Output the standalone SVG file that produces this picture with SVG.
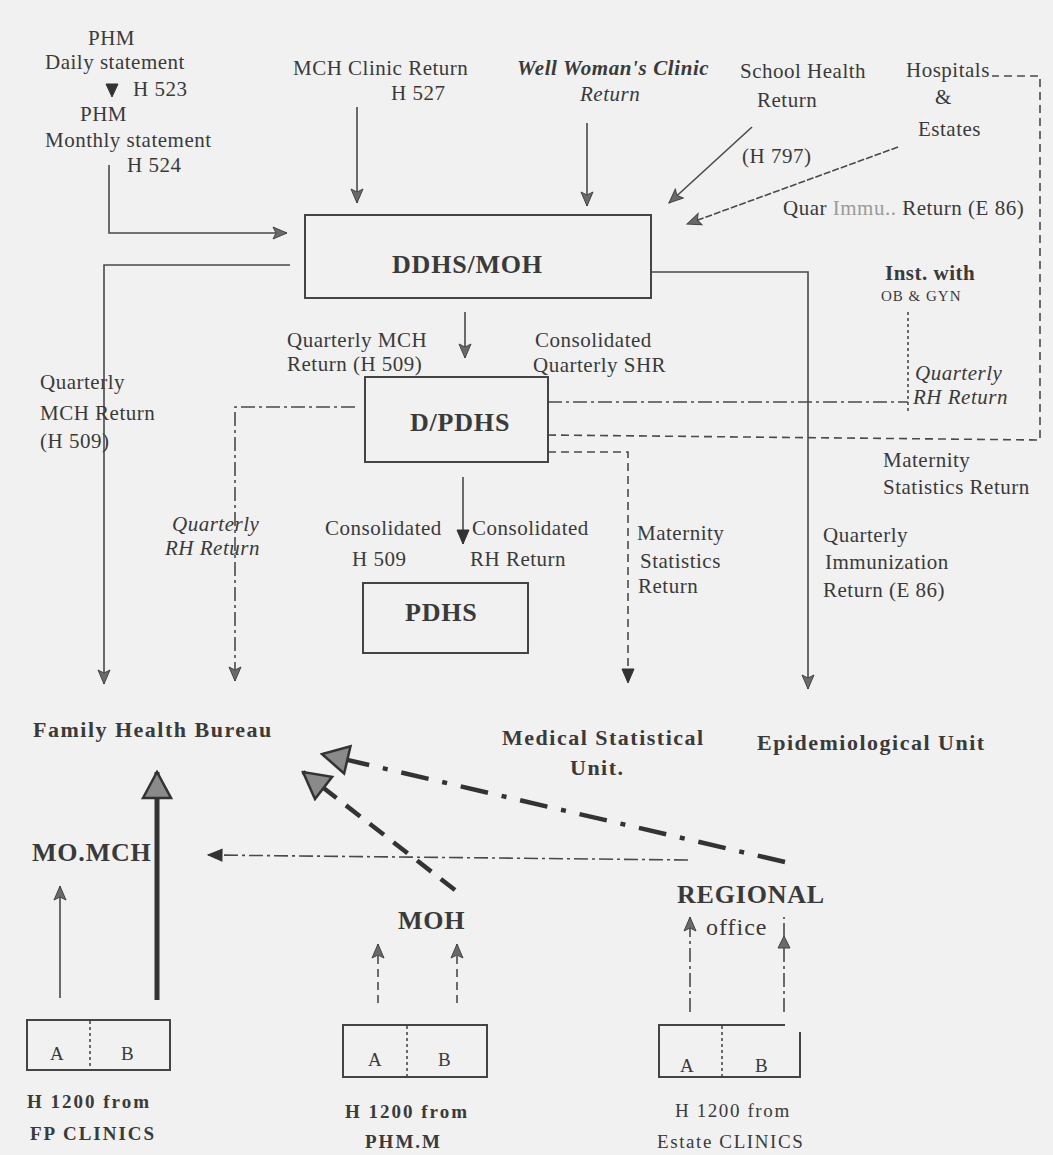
<svg xmlns="http://www.w3.org/2000/svg" width="1053" height="1155" viewBox="0 0 1053 1155">
<style>
  text { font-family: "Liberation Serif", "Times New Roman", serif; fill: #3a3a3a; }
  .t { font-size: 21px; letter-spacing: 0.5px; }
  .ti { font-size: 21px; letter-spacing: 0.5px; font-style: italic; }
  .tbi { font-size: 21px; letter-spacing: 0.6px; font-style: italic; font-weight: bold; }
  .sm { font-size: 15px; letter-spacing: 1px; }
  .box { font-size: 26px; font-weight: bold; letter-spacing: 0.8px; }
  .lab { font-size: 22px; font-weight: bold; letter-spacing: 1.5px; }
  .src { font-size: 19px; font-weight: bold; letter-spacing: 2px; }
  .srcr { font-size: 19px; letter-spacing: 1.6px; }
  .node { fill: none; stroke: #444; stroke-width: 2; }
  .ln { fill: none; stroke: #4a4a4a; stroke-width: 1.6; }
  .dd { stroke-dasharray: 14 4 3 4; }
  .ds { stroke-dasharray: 8 5; }
  .dt { stroke-dasharray: 3 3; }
  .thick { stroke-width: 5; stroke: #333; }
  .bdd { stroke-width: 4.5; stroke: #333; stroke-dasharray: 28 14 5 14; }
  .bds { stroke-width: 4.5; stroke: #333; stroke-dasharray: 18 12; }
</style>
<defs>
  <marker id="arr" markerUnits="userSpaceOnUse" markerWidth="16" markerHeight="14" viewBox="0 0 16 14" refX="15" refY="7" orient="auto">
    <path d="M1,1 L15,7 L1,13 L4,7 z" fill="#6a6a6a" stroke="#444" stroke-width="1"/>
  </marker>
  <marker id="arrF" markerUnits="userSpaceOnUse" markerWidth="16" markerHeight="14" viewBox="0 0 16 14" refX="15" refY="7" orient="auto">
    <path d="M1,1 L15,7 L1,13 z" fill="#333" stroke="#333" stroke-width="1"/>
  </marker>
  <marker id="big" markerUnits="userSpaceOnUse" markerWidth="30" markerHeight="32" viewBox="0 0 30 32" refX="28" refY="16" orient="auto">
    <path d="M2,2 L28,16 L2,30 z" fill="#8a8a8a" stroke="#333" stroke-width="2.5"/>
  </marker>
</defs>
<rect width="1053" height="1155" fill="#f1f1f1"/>

<g id="connectors">
  <path class="ln" d="M109,165 V233 H287" marker-end="url(#arr)"/>
  <path class="ln" d="M290,265 H104 V684" marker-end="url(#arr)"/>
  <path class="ln" d="M357,107 V203" marker-end="url(#arr)"/>
  <path class="ln" d="M587,123 V206" marker-end="url(#arr)"/>
  <path class="ln" d="M752,127 L669,203" marker-end="url(#arr)"/>
  <path class="ln" d="M898,147 L687,224" stroke-dasharray="7 2" marker-end="url(#arr)"/>
  <path class="ln" d="M651,272 H808 V689" marker-end="url(#arr)"/>
  <path class="ln" d="M465,312 V358" marker-end="url(#arr)"/>
  <path class="ln dd" d="M355,407 H235 V681" marker-end="url(#arr)"/>
  <path class="ln dd" d="M548,402 H908"/>
  <path class="ln dt" d="M908,312 V412"/>
  <path class="ln ds" d="M548,435 L1040,440 V76 H992"/>
  <path class="ln ds" d="M548,452 H628 V683" marker-end="url(#arrF)"/>
  <path class="ln" d="M463,477 V544" marker-end="url(#arrF)"/>
  <path class="ln" d="M60,998 V886" marker-end="url(#arr)"/>
  <path class="ln thick" d="M157,1000 V772" marker-end="url(#big)"/>
  <path class="ln dd" d="M688,860 L208,855" marker-end="url(#arrF)"/>
  <path class="ln bdd" d="M785,862 L322,754" marker-end="url(#big)"/>
  <path class="ln bds" d="M455,890 L303,772" marker-end="url(#big)"/>
  <path class="ln ds" d="M378,1003 V944" marker-end="url(#arr)"/>
  <path class="ln ds" d="M457,1003 V944" marker-end="url(#arr)"/>
  <path class="ln dd" d="M690,1012 V917" marker-end="url(#arr)"/>
  <path class="ln dd" d="M784,1012 V917"/>
  <path d="M784,936 L778,948 L790,948 z" fill="#6a6a6a" stroke="#444" stroke-width="1"/>
  <path d="M106,84 L118,84 L112,97 z" fill="#333" stroke="#333" stroke-width="1"/>
</g>

<g id="phm-daily">
  <text class="t" x="88" y="45">PHM</text>
  <text class="t" x="45" y="69">Daily statement</text>
  <text class="t" x="133" y="96">H 523</text>
</g>
<g id="phm-monthly">
  <text class="t" x="80" y="121">PHM</text>
  <text class="t" x="45" y="147">Monthly statement</text>
  <text class="t" x="127" y="172">H 524</text>
</g>
<g id="mch-clinic">
  <text class="t" x="293" y="75">MCH Clinic Return</text>
  <text class="t" x="391" y="100">H 527</text>
</g>
<g id="well-woman">
  <text class="tbi" x="517" y="75">Well Woman's Clinic</text>
  <text class="ti" x="580" y="101">Return</text>
</g>
<g id="school-health">
  <text class="t" x="740" y="78">School Health</text>
  <text class="t" x="757" y="107">Return</text>
  <text class="t" x="742" y="163">(H 797)</text>
</g>
<g id="hospitals">
  <text class="t" x="906" y="77">Hospitals</text>
  <text class="t" x="935" y="104">&amp;</text>
  <text class="t" x="918" y="136">Estates</text>
  <text class="t" x="783" y="215">Quar<tspan fill="#9a9a9a"> Immu..</tspan> Return (E 86)</text>
</g>
<g id="inst-ob">
  <text class="t" x="885" y="280" font-weight="bold">Inst. with</text>
  <text class="sm" x="881" y="301">OB &amp; GYN</text>
  <text class="ti" x="915" y="380">Quarterly</text>
  <text class="ti" x="913" y="404">RH Return</text>
</g>

<g id="ddhs-moh">
  <rect class="node" x="305" y="215" width="346" height="83"/>
  <text class="box" x="392" y="273">DDHS/MOH</text>
</g>
<g id="label-ddhs-down">
  <text class="t" x="287" y="347">Quarterly MCH</text>
  <text class="t" x="287" y="371">Return (H 509)</text>
  <text class="t" x="535" y="347">Consolidated</text>
  <text class="t" x="533" y="372">Quarterly SHR</text>
</g>
<g id="label-left">
  <text class="t" x="40" y="389">Quarterly</text>
  <text class="t" x="40" y="420">MCH Return</text>
  <text class="t" x="40" y="448">(H 509)</text>
</g>
<g id="dpdhs">
  <rect class="node" x="365" y="377" width="183" height="85"/>
  <text class="box" x="410" y="431" letter-spacing="0.6">D/PDHS</text>
</g>
<g id="label-rh-left">
  <text class="ti" x="172" y="531">Quarterly</text>
  <text class="ti" x="165" y="555">RH Return</text>
</g>
<g id="label-consolidated">
  <text class="t" x="325" y="535">Consolidated</text>
  <text class="t" x="352" y="566">H 509</text>
  <text class="t" x="472" y="535">Consolidated</text>
  <text class="t" x="470" y="566">RH Return</text>
</g>
<g id="label-maternity-mid">
  <text class="t" x="637" y="540">Maternity</text>
  <text class="t" x="640" y="568">Statistics</text>
  <text class="t" x="638" y="593">Return</text>
</g>
<g id="label-maternity-right">
  <text class="t" x="883" y="467">Maternity</text>
  <text class="t" x="883" y="494">Statistics Return</text>
</g>
<g id="label-immunization">
  <text class="t" x="823" y="542">Quarterly</text>
  <text class="t" x="825" y="569">Immunization</text>
  <text class="t" x="823" y="597">Return (E 86)</text>
</g>
<g id="pdhs">
  <rect class="node" x="363" y="583" width="165" height="70"/>
  <text class="box" x="405" y="621" letter-spacing="1">PDHS</text>
</g>

<g id="family-health-bureau">
  <text class="lab" x="33" y="737" letter-spacing="2.5">Family Health Bureau</text>
</g>
<g id="medical-statistical-unit">
  <text class="lab" x="502" y="745">Medical Statistical</text>
  <text class="lab" x="570" y="775">Unit.</text>
</g>
<g id="epidemiological-unit">
  <text class="lab" x="757" y="750" letter-spacing="2">Epidemiological Unit</text>
</g>
<g id="mo-mch">
  <text class="box" x="32" y="861" letter-spacing="0">MO.MCH</text>
</g>
<g id="moh">
  <text class="box" x="398" y="929" letter-spacing="1">MOH</text>
</g>
<g id="regional-office">
  <text class="box" x="677" y="903" font-weight="normal" letter-spacing="1">REGIONAL</text>
  <text x="706" y="935" font-size="24" letter-spacing="1">office</text>
</g>

<g id="fp-clinics">
  <rect class="node" x="27" y="1020" width="143" height="50" stroke-width="1.8"/>
  <line class="ln dt" x1="90" y1="1021" x2="90" y2="1069" stroke-width="1"/>
  <text class="srcr" x="50" y="1060">A</text>
  <text class="srcr" x="121" y="1060">B</text>
  <text class="src" x="27" y="1108">H 1200 from</text>
  <text class="src" x="30" y="1140">FP CLINICS</text>
</g>
<g id="phm-m">
  <rect class="node" x="343" y="1025" width="144" height="52" stroke-width="1.8"/>
  <line class="ln dt" x1="407" y1="1026" x2="407" y2="1076" stroke-width="1"/>
  <text class="srcr" x="368" y="1066">A</text>
  <text class="srcr" x="438" y="1066">B</text>
  <text class="src" x="345" y="1118" font-size="18px" letter-spacing="1.6">H 1200 from</text>
  <text class="src" x="365" y="1148" font-size="18px" letter-spacing="1.6">PHM.M</text>
</g>
<g id="estate-clinics">
  <path class="node" d="M785,1025 H659 V1077 H800 V1032" stroke-width="1.8"/>
  <line class="ln dt" x1="722" y1="1026" x2="722" y2="1076" stroke-width="1"/>
  <text class="srcr" x="680" y="1072">A</text>
  <text class="srcr" x="755" y="1072">B</text>
  <text class="srcr" x="675" y="1117">H 1200 from</text>
  <text class="srcr" x="657" y="1148">Estate CLINICS</text>
</g>
</svg>
